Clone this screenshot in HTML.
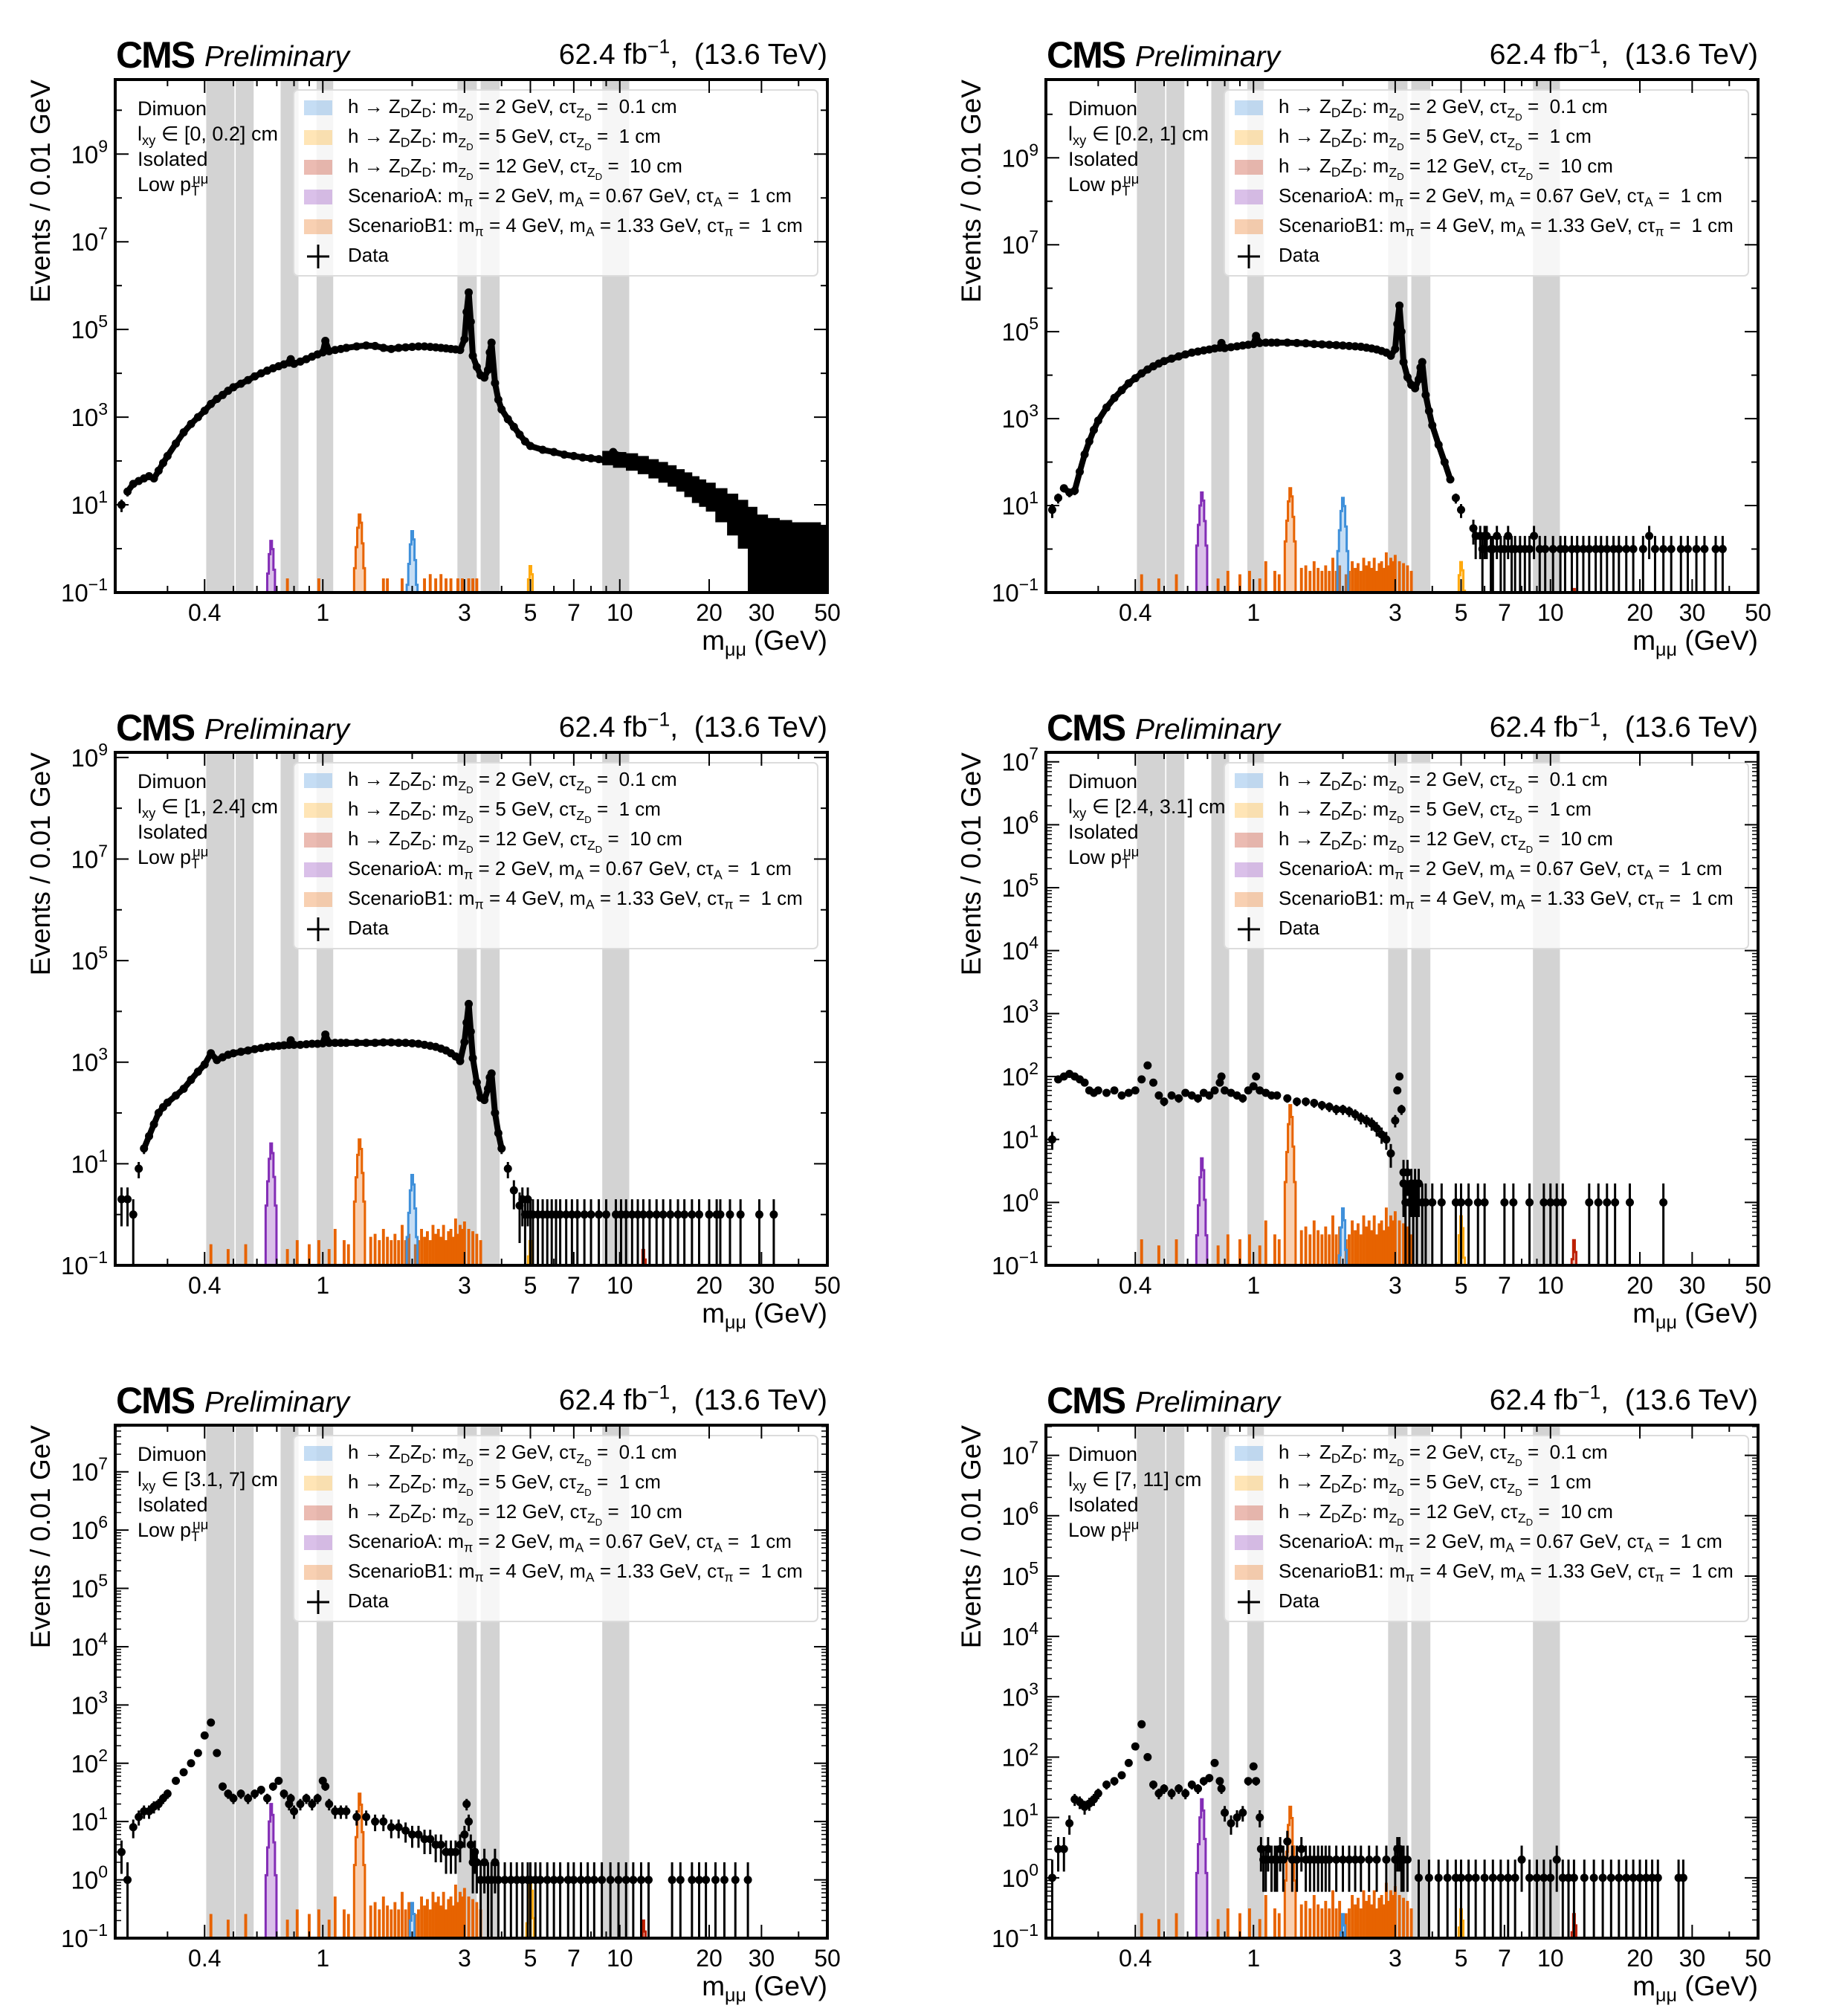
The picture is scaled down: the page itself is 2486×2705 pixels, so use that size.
<!DOCTYPE html>
<html><head><meta charset="utf-8">
<style>
body{margin:0;width:2486px;height:2705px;background:#fff;position:relative;overflow:hidden;font-family:"Liberation Sans",sans-serif;color:#000}
.t{position:absolute;white-space:nowrap;line-height:1}
sub{font-size:68%;vertical-align:-0.32em;line-height:0}
sup{font-size:68%;vertical-align:0.55em;line-height:0}
sub sub{font-size:75%}
</style></head>
<body>
<svg id="chart" width="2486" height="2705" style="position:absolute;left:0;top:0" xmlns="http://www.w3.org/2000/svg"></svg>
<script>
const massGrid=[0.21,0.22,0.23,0.24,0.25,0.26,0.27,0.28,0.29,0.30,
0.32,0.34,0.36,0.38,0.40,0.42,0.44,0.46,0.48,0.50,
0.53,0.56,0.59,0.62,0.65,0.68,0.71,0.74,0.77,0.78,
0.80,0.84,0.88,0.92,0.96,1.00,1.02,1.05,1.10,1.15,
1.2,1.3,1.4,1.5,1.6,1.7,1.8,1.9,2.0,2.1,
2.2,2.3,2.4,2.5,2.6,2.7,2.8,2.9,3.0,3.05,
3.1,3.15,3.2,3.3,3.4,3.5,3.6,3.65,3.7,3.8,
3.9,4.0,4.2,4.4,4.6,4.8,5.0,5.5,6.0,6.5,
7.0,7.5,8.0,8.5,9.0,9.5,10,10.5,11,12,
13,14,15,16,17,18,19,20,22,24,
26,28,30,33,36,40,45,50];
const data1=[10,20,30,35,40,45,40,60,90,130,
250,450,700,1000,1400,2000,2600,3200,4000,4800,
5800,7000,8500,10000,11500,13000,14500,16000,17500,21000,
16500,18500,21000,24000,27000,30000,55000,32000,34000,36000,
38000,41000,43000,42000,38000,36000,38000,39000,40000,41000,
41000,40000,39000,38000,37000,36000,35000,34000,60000,250000,
700000,150000,25000,14000,9000,8000,12000,30000,50000,6000,
2500,1500,900,600,400,280,220,180,160,140,
130,120,115,110,100,160,130,110,100,90,
75,60,50,40,33,25,20,16,10,7,
5,3,2.5,2,1.8,1.5,1.2,1];
const data2=[8,15,25,20,22,60,150,300,550,900,
1800,3000,4500,6500,8500,11000,13500,16000,18500,21000,
24000,27000,30000,33000,35000,37000,39000,41000,43000,55000,
42000,44000,46000,48000,50000,52000,80000,55000,56000,56000,
56000,56000,55000,54000,52000,51000,50000,49000,48000,47000,
46000,45000,43000,41000,39000,36000,33000,28000,40000,150000,
400000,100000,20000,9000,6000,5000,8000,15000,20000,3500,
1500,700,250,100,40,15,8,3,2];
const data3=[2,2,1,8,20,35,60,100,130,160,
220,300,450,650,900,1500,1100,1250,1400,1500,
1600,1700,1800,1900,2000,2050,2100,2150,2200,2700,
2200,2200,2250,2300,2300,2350,3500,2400,2400,2400,
2400,2400,2400,2400,2450,2450,2400,2400,2350,2300,
2200,2100,2000,1850,1700,1500,1300,1050,2500,6000,
14000,4000,1200,400,200,180,300,500,600,100,
40,20,8,3,1.5];
const data4=[10,90,100,110,100,90,80,60,55,60,
55,60,50,55,60,90,150,80,50,40,
50,45,55,50,45,55,50,60,80,100,
60,55,50,45,60,70,100,60,55,50,
50,45,40,40,38,35,33,30,30,28,
25,22,20,18,15,12,10,6,20,60,
100,30,3];
const data5=[3,1,8,12,15,15,18,20,25,30,
50,70,100,150,300,500,150,40,30,25,
30,25,30,35,25,40,50,30,20,25,
15,20,25,20,25,50,40,20,15,15,
15,12,12,10,10,8,8,7,6,6,
5,5,4,4,3,3,3,4,6,20,
10,4];
const data6=[1,3,3,8,20,18,15,17,20,25,
35,40,50,80,150,350,100,35,25,30,
25,30,25,35,30,40,45,80,40,30,
12,8,10,12,40,70,40,10];
const bandMass1=[9,10,11,12,13,14,15,16,17,18,19,20,22,24,26,28,30,33,36,40,45,50];
const bandLo1=[80,70,60,50,40,32,26,20,15,11,9,7,4,2,1,0.1,0.1,0.1,0.1,0.1,0.1,0.1];
const bandHi1=[170,160,150,130,110,95,80,65,55,45,38,32,24,18,13,9,6,5,4.5,4,4,3.5];
const sparseMass2=[5.6,5.8,5.9,6.1,6.3,6.4,6.6,6.8,7.0,7.2,7.4,7.6,7.9,8.2,8.5,8.8,9.2,9.6,10.2,10.8,11.2,11.8,12.3,12.9,13.5,14.2,14.8,15.5,16.3,17.0,18.0,19.0,20.5,21.5,22.5,24,25.5,27.5,29,31,33,36,38];
const sparseVal2=[2,2,1,2,1,1,2,1,1,2,1,1,1,1,1,2,1,1,1,1,1,1,1,1,1,1,1,1,1,1,1,1,1,2,1,1,1,1,1,1,1,1,1];
const sparseMass3=[4.7,4.8,4.9,5.0,5.1,5.3,5.5,5.7,5.9,6.1,6.3,6.6,6.9,7.2,7.6,8.0,8.5,9.0,9.7,10.1,10.5,11.0,11.5,12.0,12.6,13.3,14.0,14.8,15.7,16.5,17.5,18.5,20,21.2,21.8,23.5,25.5,29.5,33];
const sparseVal3=[2,1,2,1,1,1,1,1,1,1,1,1,1,1,1,1,1,1,1,1,1,1,1,1,1,1,1,1,1,1,1,1,1,1,1,1,1,1,1];
const sparseMass4=[3.2,3.25,3.3,3.35,3.4,3.45,3.5,3.55,3.6,3.7,3.8,4.0,4.3,4.8,5.0,5.3,5.7,6.0,7.0,7.5,8.5,9.5,10.0,10.5,11.0,13.5,14.5,15.5,16.5,18.5,24];
const sparseVal4=[2,1,3,1,2,1,2,1,2,1,1,1,1,1,1,1,1,1,1,1,1,1,1,1,1,1,1,1,1,1,1];
const sparseMass5=[3.2,3.25,3.3,3.4,3.5,3.6,3.7,3.8,3.9,4.1,4.3,4.5,4.7,4.9,5.0,5.2,5.4,5.7,6.0,6.3,6.7,7.0,7.4,7.8,8.2,8.7,9.3,9.9,10.5,11.1,11.8,12.5,15.0,16.0,17.5,18.5,19.5,21.0,22.5,24.5,27];
const sparseVal5=[2,3,2,1,2,1,1,2,1,1,1,1,1,1,1,1,1,1,1,1,1,1,1,1,1,1,1,1,1,1,1,1,1,1,1,1,1,1,1,1,1];
const sparseMass6=[1.06,1.08,1.1,1.12,1.15,1.18,1.2,1.23,1.26,1.3,1.35,1.4,1.45,1.5,1.55,1.6,1.65,1.7,1.75,1.8,1.9,2.0,2.1,2.2,2.3,2.45,2.6,2.8,3.0,3.05,3.1,3.15,3.2,3.3,3.6,3.9,4.2,4.5,4.8,5.0,5.3,5.6,6.0,6.4,6.8,7.2,7.6,8.0,8.5,9.0,9.5,10,10.5,11,11.5,12,13,14,15,16,17,18,19,20,21,22,23,27,28];
const sparseVal6=[3,2,2,3,2,2,2,3,2,4,2,2,3,2,2,2,2,2,2,2,2,2,2,2,2,2,2,2,2,3,3,2,2,2,1,1,1,1,1,1,1,1,1,1,1,1,1,2,1,1,1,1,2,1,1,1,1,1,1,1,1,1,1,1,1,1,1,1,1];
const peakShape=[0.06,0.18,0.5,1,0.65,0.22,0.06];
const sigMass=[2,5,12,0.67,1.33];
const blueH=[2.5,15,6,0.8,0.4,0.25];
const yellowH=[0.4,0.5,0.3,0.6,1.0,0.3];
const redH=[0.1,0.12,0.2,0.25,0.2,0.25];
const purpleH=[1.5,20,25,5,20,20];
const orangeH=[6,25,30,35,30,15];
const noiseMass=[0.42,0.48,0.55,0.76,0.82,0.9,0.97,1.05,1.1,1.18,1.22,1.45,1.5,1.55,1.6,1.65,1.7,1.75,1.8,1.85,1.9,1.95,2.05,2.1,2.15,2.2,2.25,2.3,2.35,2.4,2.45,2.5,2.55,2.6,2.65,2.7,2.75,2.8,2.85,2.9,2.95,3.0,3.1,3.2,3.3,3.4];
const noiseSparse=[0,0,0,0.2,0,0,0.2,0,0,0,0,0,0,0,0.2,0.2,0,0,0,0.2,0,0,0,0,0,0.2,0,0.25,0,0.2,0,0.25,0,0.2,0,0.2,0,0,0.2,0,0.2,0,0.2,0.2,0.2,0];
const noiseDense=[0.25,0.2,0.25,0.2,0.3,0.25,0.3,0.2,0.5,0.3,0.25,0.35,0.4,0.3,0.5,0.35,0.3,0.4,0.3,0.6,0.3,0.4,0.25,0.3,0.5,0.35,0.45,0.3,0.6,0.4,0.5,0.35,0.6,0.3,0.45,0.5,0.35,0.8,0.4,0.6,0.5,0.7,0.5,0.45,0.4,0.3];
const vetoLo=[0.405,0.509,0.721,0.953,2.84,3.40,8.73];
const vetoHi=[0.504,0.585,0.828,1.084,3.30,3.94,10.76];
const lxyLabels=["[0, 0.2]","[0.2, 1]","[1, 2.4]","[2.4, 3.1]","[3.1, 7]","[7, 11]"];
const yTopExp=[10.7,10.8,9.1,7.15,7.8,7.5];
const yLabelExps=[[-1,1,3,5,7,9],[-1,1,3,5,7,9],[-1,1,3,5,7,9],[-1,0,1,2,3,4,5,6,7],[-1,0,1,2,3,4,5,6,7],[-1,0,1,2,3,4,5,6,7]];
const xTickLabels=[0.4,1,3,5,7,10,20,30,50];

const allData=[data1,data2,data3,data4,data5,data6];
const allSparseM=[[],sparseMass2,sparseMass3,sparseMass4,sparseMass5,sparseMass6];
const allSparseV=[[],sparseVal2,sparseVal3,sparseVal4,sparseVal5,sparseVal6];
const PX=[155,1407,155,1407,155,1407], PY=[107,107,1012,1012,1917,1917], W=958, H=690;
const XMIN=0.2, XMAX=50;
const NS='http://www.w3.org/2000/svg';
const svg=document.getElementById('chart');
function mk(tag,attrs,parent){const e=document.createElementNS(NS,tag);for(const k in attrs)e.setAttribute(k,attrs[k]);(parent||svg).appendChild(e);return e;}
function html(x,y,size,content){const d=document.createElement('div');d.className='t';d.style.left=x+'px';d.style.top=y+'px';d.style.fontSize=size+'px';d.innerHTML=content;document.body.appendChild(d);return d;}
const colors={blue:'#3f90da',yellow:'#ffa90e',red:'#bd1f01',purple:'#832db6',orange:'#e76300'};

for(let p=0;p<6;p++){
  const x0=PX[p], y0=PY[p], top=yTopExp[p];
  const xs=m=>x0+W*Math.log10(m/XMIN)/Math.log10(XMAX/XMIN);
  const ys=v=>y0+H-(Math.log10(Math.max(v,0.1))+1)/(top+1)*H;
  const yb=y0+H;
  const g=mk('g',{});
  
  
  const cid='clip'+p;
  const cp=mk('clipPath',{id:cid},g); mk('rect',{x:x0,y:y0,width:W,height:H},cp);
  const inner=mk('g',{'clip-path':'url(#'+cid+')'},g);
  for(let i=0;i<vetoLo.length;i++){
    const r=mk('rect',{x:xs(vetoLo[i]),y:y0,width:xs(vetoHi[i])-xs(vetoLo[i]),height:H,fill:'#d3d3d3'},inner);
    
    
  }
  const lg=mk('rect',{x:x0+240,y:y0+14,width:705,height:250,rx:6,fill:'rgba(255,255,255,0.8)',stroke:'#dcdcdc','stroke-width':2},inner);
  
  
  const sigH=[blueH[p],yellowH[p],redH[p],purpleH[p],orangeH[p]];
  const sigC=[colors.blue,colors.yellow,colors.red,colors.purple,colors.orange];
  const sigN=['signal-zd-2gev','signal-zd-5gev','signal-zd-12gev','signal-scenario-a','signal-scenario-b1'];
  function histBin(mc,val,col,name){
    if(val<=0.1) return;
    const a=xs(mc*0.996), b=xs(mc*1.004);
    const r=mk('path',{d:`M${a},${yb} L${a},${ys(val)} L${b},${ys(val)} L${b},${yb}`,fill:col,'fill-opacity':0.3,stroke:col,'stroke-width':2.5},inner);
    
    
  }
  const nz=p===0?noiseSparse:noiseDense;
  for(let i=0;i<noiseMass.length;i++) histBin(noiseMass[i],nz[i],colors.orange,'signal-scenario-b1-tail');
  for(let s=0;s<5;s++){
    let dpath='', started=false;
    for(let j=0;j<peakShape.length;j++){
      const mc=sigMass[s]*(1+0.012*(j-3));
      const a=xs(mc*0.994), b=xs(mc*1.006), v=ys(sigH[s]*peakShape[j]);
      if(!started){dpath+=`M${a},${yb} `;started=true;}
      dpath+=`L${a},${v} L${b},${v} `;
      if(j===peakShape.length-1) dpath+=`L${b},${yb}`;
    }
    const r=mk('path',{d:dpath,fill:sigC[s],'fill-opacity':0.3,stroke:sigC[s],'stroke-width':3},inner);
    
    
  }
  const d=allData[p];
  if(p===0){
    for(let i=0;i<bandMass1.length;i++){
      const a=xs(bandMass1[i]*(i>0?Math.sqrt(bandMass1[i-1]/bandMass1[i]):0.97));
      const b=xs(bandMass1[i]*(i<bandMass1.length-1?Math.sqrt(bandMass1[i+1]/bandMass1[i]):1.03));
      const r=mk('rect',{x:a,y:ys(bandHi1[i]),width:b-a+0.5,height:ys(bandLo1[i])-ys(bandHi1[i]),fill:'#000'},inner);
      
      
    }
  }
  const thr=p<3?20:1e9;
  for(let i=1;i<d.length;i++){
    const v=d[i]; if(v==null||d[i-1]==null) continue;
    if(v>=thr && d[i-1]>=thr){
      const l=mk('line',{x1:xs(massGrid[i-1]),y1:ys(d[i-1]),x2:xs(massGrid[i]),y2:ys(v),stroke:'#000','stroke-width':8,'stroke-linecap':'round'},inner);
      
      
    }
  }
  function dataPoint(m,v){
    const e=Math.sqrt(v);
    const l=mk('line',{x1:xs(m),x2:xs(m),y1:ys(v+e),y2:(v-e<=0.1?yb:ys(v-e)),stroke:'#000','stroke-width':3},inner);
    
    
    const c=mk('circle',{cx:xs(m),cy:ys(v),r:5.5,fill:'#000'},inner);
    
    
  }
  for(let i=0;i<d.length;i++) if(d[i]!=null) dataPoint(massGrid[i],d[i]);
  const sm=allSparseM[p], sv=allSparseV[p];
  for(let i=0;i<sm.length;i++) dataPoint(sm[i],sv[i]);
  const fr=mk('rect',{x:x0,y:y0,width:W,height:H,fill:'none',stroke:'#000','stroke-width':4},g);
  
  
  const minors=[0.3,0.4,0.5,0.6,0.7,0.8,0.9,1,2,3,4,5,6,7,8,9,10,20,30,40,50];
  for(const m of minors){
    const big=xTickLabels.includes(m);
    const L=big?18:9;
    mk('line',{x1:xs(m),x2:xs(m),y1:yb,y2:yb-L,stroke:'#000','stroke-width':2},g);
    mk('line',{x1:xs(m),x2:xs(m),y1:y0,y2:y0+L,stroke:'#000','stroke-width':2},g);
  }
  for(const m of xTickLabels){
    const t=mk('text',{x:xs(m),y:yb+38,'text-anchor':'middle','font-size':32,'font-family':'Liberation Sans, sans-serif'},g);
    t.textContent=String(m);
    
    
  }
  const dense=p>=3;
  for(let e=-1;e<=Math.floor(top);e++){
    const y=ys(Math.pow(10,e));
    const big=yLabelExps[p].includes(e);
    const L=big?18:9;
    mk('line',{x1:x0,x2:x0+L,y1:y,y2:y,stroke:'#000','stroke-width':2},g);
    mk('line',{x1:x0+W,x2:x0+W-L,y1:y,y2:y,stroke:'#000','stroke-width':2},g);
    if(dense){for(let k=2;k<10;k++){const yy=ys(k*Math.pow(10,e)); if(yy<y0) break;
      mk('line',{x1:x0,x2:x0+8,y1:yy,y2:yy,stroke:'#000','stroke-width':1.5},g);
      mk('line',{x1:x0+W,x2:x0+W-8,y1:yy,y2:yy,stroke:'#000','stroke-width':1.5},g);}}
  }
  for(const e of yLabelExps[p]){
    const t=mk('text',{x:x0-10,y:ys(Math.pow(10,e))+12,'text-anchor':'end','font-size':33,'font-family':'Liberation Sans, sans-serif'},g);
    t.innerHTML='10<tspan dy="-15" font-size="23">'+(e<0?'\u2212'+(-e):e)+'</tspan>';
    
    
  }
  const yt=mk('text',{transform:`translate(${x0-88},${y0}) rotate(-90)`,'text-anchor':'end','font-size':37,'font-family':'Liberation Sans, sans-serif'},g);
  yt.textContent='Events / 0.01 GeV';
  
  
  const xt=html(x0+W-220,yb+46,37,'m<sub>μμ</sub> (GeV)');
  xt.style.width='220px';xt.style.textAlign='right';
  
  
  const cms=html(x0+1,y0-58,50,'<b style="letter-spacing:-2px">CMS</b>');
  
  
  const pre=html(x0+120,y0-50,39,'<i>Preliminary</i>');
  
  
  const lumi=html(x0+W-540,y0-53,39,'62.4 fb<sup>−1</sup>,&nbsp; (13.6 TeV)');
  lumi.style.width='540px';lumi.style.textAlign='right';
  
  
  const info=html(x0+30,y0+22,27,'Dimuon<br>l<sub>xy</sub> ∈ '+lxyLabels[p]+' cm<br>Isolated<br>Low p<sub>T</sub><sup style="margin-left:-0.5em">μμ</sup>');
  info.style.lineHeight='34px';
  
  
  const legTxt=['h → Z<sub>D</sub>Z<sub>D</sub>: m<sub>Z<sub>D</sub></sub> = 2 GeV, cτ<sub>Z<sub>D</sub></sub> = &nbsp;0.1 cm',
    'h → Z<sub>D</sub>Z<sub>D</sub>: m<sub>Z<sub>D</sub></sub> = 5 GeV, cτ<sub>Z<sub>D</sub></sub> = &nbsp;1 cm',
    'h → Z<sub>D</sub>Z<sub>D</sub>: m<sub>Z<sub>D</sub></sub> = 12 GeV, cτ<sub>Z<sub>D</sub></sub> = &nbsp;10 cm',
    'ScenarioA: m<sub>π</sub> = 2 GeV, m<sub>A</sub> = 0.67 GeV, cτ<sub>A</sub> = &nbsp;1 cm',
    'ScenarioB1: m<sub>π</sub> = 4 GeV, m<sub>A</sub> = 1.33 GeV, cτ<sub>π</sub> = &nbsp;1 cm',
    'Data'];
  const legC=[colors.blue,colors.yellow,colors.red,colors.purple,colors.orange,null];
  for(let i=0;i<6;i++){
    const cy=y0+38+i*40;
    if(legC[i]){
      const r=mk('rect',{x:x0+254,y:cy-10,width:38,height:20,fill:legC[i],'fill-opacity':0.3},g);
      
      
    } else {
      mk('line',{x1:x0+273,x2:x0+273,y1:cy-16,y2:cy+16,stroke:'#000','stroke-width':3},g);
      mk('line',{x1:x0+258,x2:x0+288,y1:cy,y2:cy,stroke:'#000','stroke-width':3},g);
    }
    const t=html(x0+313,cy-15,26,legTxt[i]);
    
    
  }
}
</script>
</body></html>
